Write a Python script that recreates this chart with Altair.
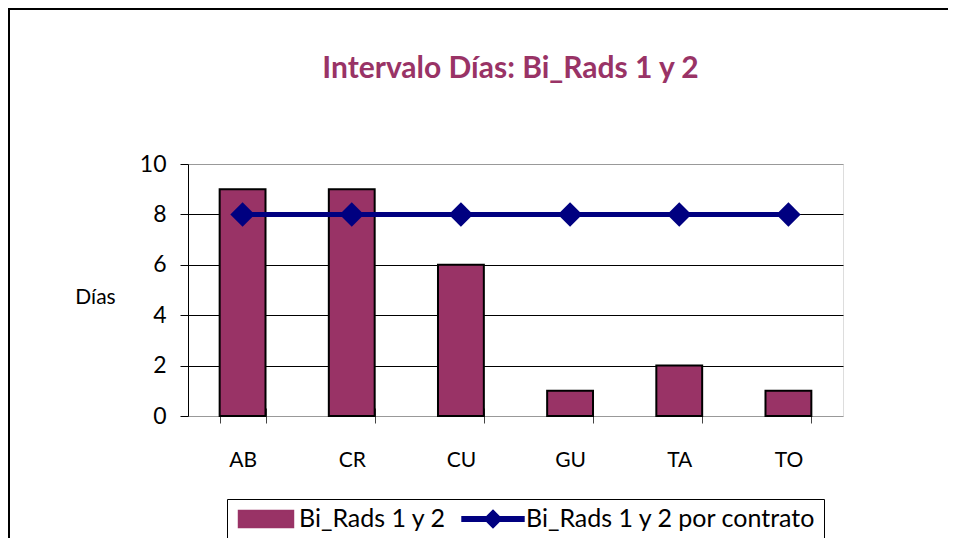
import altair as alt
import pandas as pd

categorias = ["AB", "CR", "CU", "GU", "TA", "TO"]
dias = [9, 9, 6, 1, 2, 1]
contrato = [8, 8, 8, 8, 8, 8]
serie_bar = "Bi_Rads 1 y 2"
serie_line = "Bi_Rads 1 y 2 por contrato"

df_bar = pd.DataFrame({"cat": categorias, "val": dias, "serie": serie_bar})
df_line = pd.DataFrame({"cat": categorias, "val": contrato, "serie": serie_line})

FONT = "Lato"
BAR = "#993366"
LINE = "#000080"

color_scale = alt.Scale(domain=[serie_bar, serie_line], range=[BAR, LINE])
is_bar = f"datum.value === '{serie_bar}'"
rect_path = "M-2.29,-0.71H2.29V0.71H-2.29Z"
line_path = "M-2.58,-0.19H2.58V0.19H-2.58Z M0,-0.72L0.72,0L0,0.72L-0.72,0Z"

legend = alt.Legend(
    title=None,
    orient="none",
    legendX=39,
    legendY=335,
    direction="horizontal",
    labelFont=FONT,
    labelFontSize=25,
    labelColor="black",
    labelLimit=500,
    labelOffset=20,
    symbolOffset=19,
    columnPadding=12,
    symbolSize=576,
    strokeColor="black",
    padding=7,
    symbolType={"expr": f"{is_bar} ? '{rect_path}' : '{line_path}'"},
    symbolFillColor={"expr": f"{is_bar} ? '{BAR}' : '{LINE}'"},
    symbolStrokeColor={"expr": f"{is_bar} ? 'black' : '{LINE}'"},
    symbolStrokeWidth=1.5,
    symbolOpacity=1,
)

x_enc = alt.X(
    "cat:N",
    sort=categorias,
    scale=alt.Scale(paddingInner=0.58, paddingOuter=0.29),
    axis=alt.Axis(
        title=None,
        labelAngle=0,
        labelFont=FONT,
        labelFontSize=21,
        labelColor="black",
        labelPadding=26,
        domain=False,
        ticks=True,
        tickBand="extent",
        tickSize=15,
        tickColor="#444444",
        offset=-8,
        grid=False,
    ),
)

y_axis = alt.Axis(
    title="Días",
    titleAngle=0,
    titleX=-93,
    titleY=133,
    titleAlign="center",
    titleBaseline="middle",
    titleFont=FONT,
    titleFontSize=21,
    titleFontWeight="normal",
    titleColor="black",
    values=[0, 2, 4, 6, 8, 10],
    labelFont=FONT,
    labelFontSize=23,
    labelColor="black",
    labelPadding=14,
    tickSize=8,
    tickColor="black",
    domainColor="black",
    grid=True,
    gridColor={"condition": {"test": "datum.value == 0 || datum.value == 10", "value": "#999999"}, "value": "black"},
    gridWidth=1,
)

y_enc = alt.Y("val:Q", scale=alt.Scale(domain=[0, 10], nice=False), axis=y_axis)

bars = alt.Chart(df_bar).mark_bar(stroke="black", strokeWidth=2).encode(
    x=x_enc,
    y=y_enc,
    color=alt.Color("serie:N", scale=color_scale, legend=legend),
)

line = alt.Chart(df_line).mark_line(strokeWidth=5).encode(
    x=alt.X("cat:N", sort=categorias),
    y=alt.Y("val:Q"),
    color=alt.Color("serie:N", scale=color_scale, legend=legend),
)

points = alt.Chart(df_line).mark_point(shape="diamond", filled=True, size=600, opacity=1, color=LINE).encode(
    x=alt.X("cat:N", sort=categorias),
    y=alt.Y("val:Q"),
)

frame = alt.Chart(pd.DataFrame({"f": [0]})).mark_rect(
    fill="transparent", stroke="black", strokeWidth=2
).encode(
    x=alt.value(-179),
    y=alt.value(-155),
    x2=alt.value(2000),
    y2=alt.value(2000),
)

chart = alt.layer(frame, bars, line, points).properties(
    width=655,
    height=252,
    autosize=alt.AutoSizeParams(type="none"),
    padding={"left": 180, "top": 156, "right": 105, "bottom": 122},
    title=alt.TitleParams(
        "Intervalo Días: Bi_Rads 1 y 2",
        font=FONT,
        fontSize=30,
        fontWeight="bold",
        color=BAR,
        anchor="middle",
        baseline="alphabetic",
        offset=-100,
        dx=-5,
    ),
).configure_view(
    stroke="#999999", strokeWidth=2, fill="white"
).configure(background="white")

chart.save("out.html", embed_options={"renderer": "svg", "actions": False})
